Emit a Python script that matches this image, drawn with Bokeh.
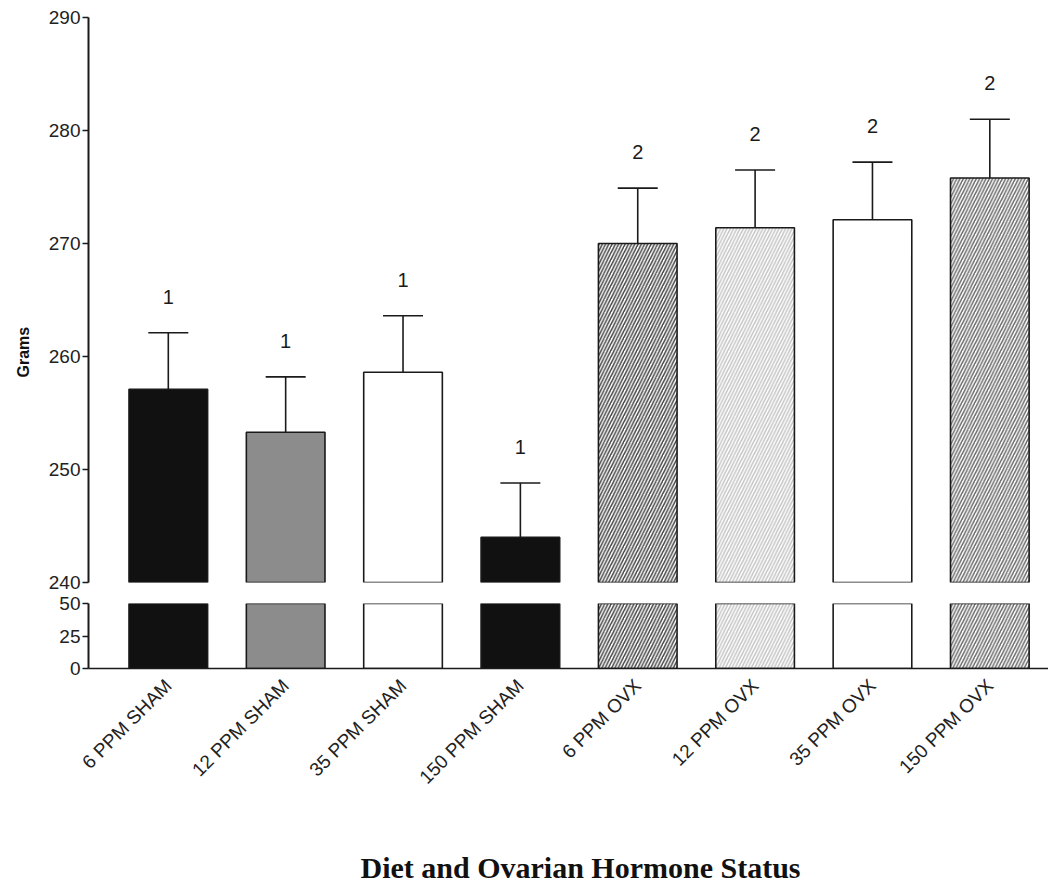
import math
from bokeh.plotting import figure
from bokeh.models import (ColumnDataSource, Range1d, FixedTicker, Whisker, TeeHead, Title)
from bokeh.layouts import column
from bokeh.core.properties import value
from bokeh.embed import file_html
from bokeh.resources import INLINE

# ---- data ----
categories = ["6 PPM SHAM", "12 PPM SHAM", "35 PPM SHAM", "150 PPM SHAM",
              "6 PPM OVX", "12 PPM OVX", "35 PPM OVX", "150 PPM OVX"]
means = [257.1, 253.3, 258.6, 244.0, 270.0, 271.4, 272.1, 275.8]
sems = [5.0, 4.9, 5.0, 4.8, 4.9, 5.1, 5.1, 5.2]
groups = ["1", "1", "1", "1", "2", "2", "2", "2"]
upper_ticks = [240, 250, 260, 270, 280, 290]
lower_ticks = [0, 25, 50]

# ---- styles ----
fills = ["#111111", "#8c8c8c", "#ffffff", "#111111", "#ffffff", "#ffffff", "#ffffff", "#ffffff"]
hatches = [" ", " ", " ", " ", "/", "/", " ", "/"]
hatch_cols = ["#000000", "#000000", "#000000", "#000000", "#454545", "#c4c4c4", "#000000", "#6a6a6a"]

xs = list(range(len(categories)))
src = ColumnDataSource(dict(
    x=xs, top=means, upper=[m + s for m, s in zip(means, sems)],
    lab=groups, fill=fills, hatch=hatches, hcol=hatch_cols,
))

FONT = "Liberation Sans"
W = 1048
x_range = Range1d(-0.68, 7.5)


def add_bars(p):
    p.vbar(x="x", top="top", bottom=0, width=0.67, source=src,
           fill_color="fill", line_color="#1a1a1a", line_width=1.6,
           hatch_pattern="hatch", hatch_color="hcol", hatch_scale=6.5, hatch_weight=1.5)


def style_yaxis(p, ticks):
    ax = p.yaxis[0]
    ax.ticker = FixedTicker(ticks=ticks)
    ax.axis_line_width = 2
    ax.axis_line_color = "#1a1a1a"
    ax.major_tick_line_width = 1.5
    ax.major_tick_line_color = "#1a1a1a"
    ax.major_tick_out = 6
    ax.major_tick_in = 0
    ax.minor_tick_line_color = None
    ax.major_label_text_font = FONT
    ax.major_label_text_font_size = "19px"
    ax.major_label_text_color = "#222222"
    ax.major_label_standoff = 2


# ---- upper panel (240-290) ----
up = figure(width=W, height=592, x_range=x_range, y_range=Range1d(240, 290),
            output_backend="svg", toolbar_location=None,
            min_border_left=88, min_border_right=0, min_border_top=17, min_border_bottom=10)
up.xaxis.visible = False
up.grid.visible = False
up.outline_line_color = None
add_bars(up)
up.add_layout(Whisker(base="x", upper="upper", lower="top", source=src, dimension="height",
                      line_width=1.6, line_color="#1a1a1a", lower_head=None,
                      upper_head=TeeHead(size=40, line_width=1.6, line_color="#1a1a1a")))
up.text(x="x", y="upper", text="lab", source=src, text_align="center", text_baseline="middle",
        y_offset=-36, text_font=value(FONT), text_font_size="20px", text_color="#1a1a1a")
style_yaxis(up, upper_ticks)
up.add_layout(Title(text="Grams", align="left", offset=205, standoff=26, vertical_align="middle",
                    text_font=FONT, text_font_size="16px", text_font_style="bold",
                    text_color="#111111"), "left")

# ---- lower panel (0-50) ----
lo = figure(width=W, height=292, x_range=x_range, y_range=Range1d(0, 50),
            output_backend="svg", toolbar_location=None,
            min_border_left=88, min_border_right=0, min_border_top=11, min_border_bottom=0)
lo.grid.visible = False
lo.outline_line_color = None
add_bars(lo)
style_yaxis(lo, lower_ticks)
xa = lo.xaxis[0]
xa.ticker = FixedTicker(ticks=xs)
xa.major_label_overrides = {i: c for i, c in zip(xs, categories)}
xa.major_label_orientation = math.pi / 4
xa.major_label_text_font = FONT
xa.major_label_text_font_size = "19px"
xa.major_label_text_color = "#222222"
xa.major_label_standoff = 8
xa.major_tick_line_color = None
xa.minor_tick_line_color = None
xa.axis_line_width = 1.6
xa.axis_line_color = "#1a1a1a"
# spacer between tick labels and the bottom title
lo.add_layout(Title(text=" ", standoff=46, text_font_size="1px"), "below")
lo.add_layout(Title(text="Diet and Ovarian Hormone Status", align="left", offset=272,
                    standoff=2, text_font="Liberation Serif", text_font_size="30px",
                    text_font_style="bold", text_color="#111111"), "below")

layout = column(up, lo, spacing=0)
open("out.html", "w").write(file_html(layout, INLINE))
